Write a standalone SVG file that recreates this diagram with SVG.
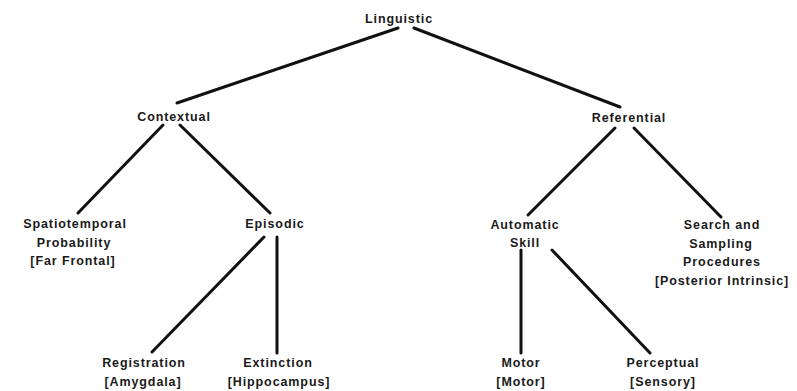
<svg xmlns="http://www.w3.org/2000/svg" width="797" height="391" viewBox="0 0 797 391">
<style>
  .bg { fill: #ffffff; }
  .lbl { font-family: "Liberation Sans", Arial, sans-serif; font-size: 12.5px; font-weight: bold; letter-spacing: 0.9px; fill: #1a1a1a; text-anchor: middle; }
  .edge { stroke: #111111; stroke-width: 3; stroke-linecap: round; fill: none; }
</style>
<rect class="bg" x="0" y="0" width="797" height="391"/>
<g id="connectors">
  <line class="edge" x1="398" y1="28" x2="177" y2="103"/>
  <line class="edge" x1="414" y1="28" x2="620" y2="107"/>
  <line class="edge" x1="163" y1="125" x2="78" y2="213"/>
  <line class="edge" x1="180" y1="125" x2="270" y2="213"/>
  <line class="edge" x1="615" y1="128" x2="528" y2="215"/>
  <line class="edge" x1="634" y1="128" x2="721" y2="217"/>
  <line class="edge" x1="264" y1="237" x2="152" y2="352"/>
  <line class="edge" x1="277" y1="237" x2="277" y2="353"/>
  <line class="edge" x1="521" y1="250" x2="521" y2="353"/>
  <line class="edge" x1="552" y1="250" x2="650" y2="353"/>
</g>
<g id="linguistic"><text class="lbl" x="399" y="23">Linguistic</text></g>
<g id="contextual"><text class="lbl" x="174" y="121">Contextual</text></g>
<g id="referential"><text class="lbl" x="629" y="122">Referential</text></g>
<g id="spatiotemporal">
  <text class="lbl" x="75" y="228">Spatiotemporal</text>
  <text class="lbl" x="74" y="247">Probability</text>
  <text class="lbl" x="73" y="265">[Far Frontal]</text>
</g>
<g id="episodic"><text class="lbl" x="275" y="228">Episodic</text></g>
<g id="automatic-skill">
  <text class="lbl" x="525" y="229">Automatic</text>
  <text class="lbl" x="525" y="247">Skill</text>
</g>
<g id="search-sampling">
  <text class="lbl" x="722" y="229">Search and</text>
  <text class="lbl" x="721" y="248">Sampling</text>
  <text class="lbl" x="722" y="266">Procedures</text>
  <text class="lbl" x="722" y="285">[Posterior Intrinsic]</text>
</g>
<g id="registration">
  <text class="lbl" x="144" y="367">Registration</text>
  <text class="lbl" x="143" y="386">[Amygdala]</text>
</g>
<g id="extinction">
  <text class="lbl" x="278" y="367">Extinction</text>
  <text class="lbl" x="279" y="386">[Hippocampus]</text>
</g>
<g id="motor">
  <text class="lbl" x="521" y="367">Motor</text>
  <text class="lbl" x="521" y="386">[Motor]</text>
</g>
<g id="perceptual">
  <text class="lbl" x="663" y="367">Perceptual</text>
  <text class="lbl" x="663" y="386">[Sensory]</text>
</g>
</svg>
